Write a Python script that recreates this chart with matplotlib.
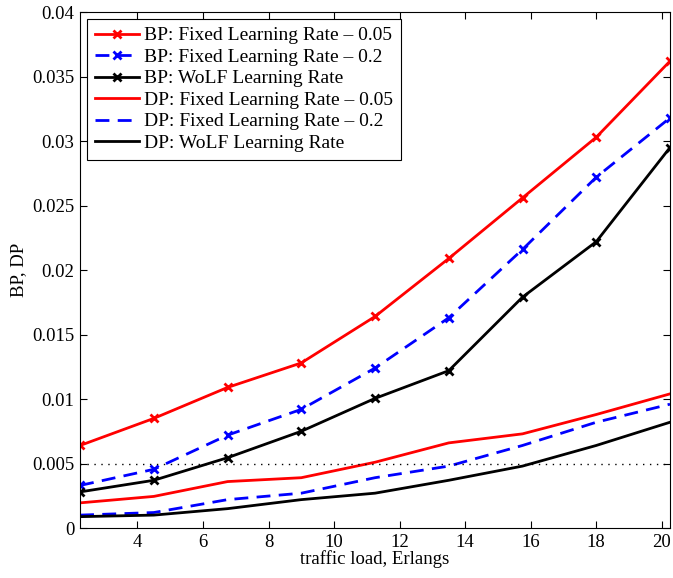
import numpy as np
import matplotlib
matplotlib.use('Agg')
import matplotlib.pyplot as plt

plt.rcParams['font.family'] = ['Liberation Serif', 'DejaVu Serif']

# traffic load (Erlangs)
carico = [2.25, 4.5, 6.75, 9, 11.25, 13.5, 15.75, 18, 20.25]

# blocking probability
bp_fisso_005 = [0.0064, 0.0085, 0.0109, 0.0128, 0.0164, 0.0209, 0.0256, 0.0303, 0.0362]
bp_fisso_02 = [0.0033, 0.00455, 0.0072, 0.0092, 0.0124, 0.0163, 0.0216, 0.0272, 0.0318]
bp_wolf = [0.0028, 0.0037, 0.00545, 0.0075, 0.01005, 0.0122, 0.0179, 0.0222, 0.0295]

# dropping probability
dp_fisso_005 = [0.00195, 0.00245, 0.0036, 0.0039, 0.0051, 0.0066, 0.0073, 0.0088, 0.0104]
dp_fisso_02 = [0.001, 0.0012, 0.0022, 0.0027, 0.0039, 0.0048, 0.0064, 0.0082, 0.0096]
dp_wolf = [0.00088, 0.001, 0.0015, 0.0022, 0.0027, 0.0037, 0.0048, 0.0064, 0.0082]

soglia = 0.005
etichette_y = ['0', '0.005', '0.01', '0.015', '0.02', '0.025', '0.03', '0.035', '0.04']

fig = plt.figure(figsize=[6.73, 5.78], dpi=100)
ax = fig.add_axes([0.119, 0.0865, 0.8765, 0.8925])

lw = 2
trat = (5, 3)
ax.plot(carico, bp_fisso_005, '-', c='#ff0000', lw=lw, marker='x', ms=6, mew=2,
        label='BP: Fixed Learning Rate \u2013 0.05')
ax.plot(carico, bp_fisso_02, '--', c='#0000ff', lw=lw, marker='x', ms=6, mew=2,
        dashes=trat, label='BP: Fixed Learning Rate \u2013 0.2')
ax.plot(carico, bp_wolf, '-', c='k', lw=lw, marker='x', ms=6, mew=2,
        label='BP: WoLF Learning Rate')
ax.plot(carico, dp_fisso_005, '-', c='#ff0000', lw=lw,
        label='DP: Fixed Learning Rate \u2013 0.05')
ax.plot(carico, dp_fisso_02, '--', c='#0000ff', lw=lw, dashes=trat,
        label='DP: Fixed Learning Rate \u2013 0.2')
ax.plot(carico, dp_wolf, '-', c='k', lw=lw, label='DP: WoLF Learning Rate')

ax.axhline(soglia, c='k', lw=1, ls=(0, (1, 4)))

ax.set_xlim(2.25, 20.25)
ax.set_ylim(0, 0.04)
ax.set_xticks(np.arange(4, 21, 2))
ax.set_yticks(np.arange(0, 0.0401, 0.005))
ax.set_yticklabels(etichette_y)
ax.tick_params(direction='in', top=True, right=True, labelsize=13.5, length=5, width=0.8, pad=4)
for s in ax.spines.values():
    s.set_linewidth(0.8)

ax.set_xlabel('traffic load, Erlangs', fontsize=13.5, labelpad=0)
ax.set_ylabel('BP, DP', fontsize=13.5, labelpad=4)

leg = ax.legend(loc='upper left', fontsize=14, handlelength=2.3, handletextpad=0.25,
                labelspacing=0.2, borderpad=0.4, fancybox=False, framealpha=1,
                edgecolor='k', borderaxespad=0.35)
leg.get_frame().set_linewidth(0.8)

plt.savefig('out.png', dpi=100)
